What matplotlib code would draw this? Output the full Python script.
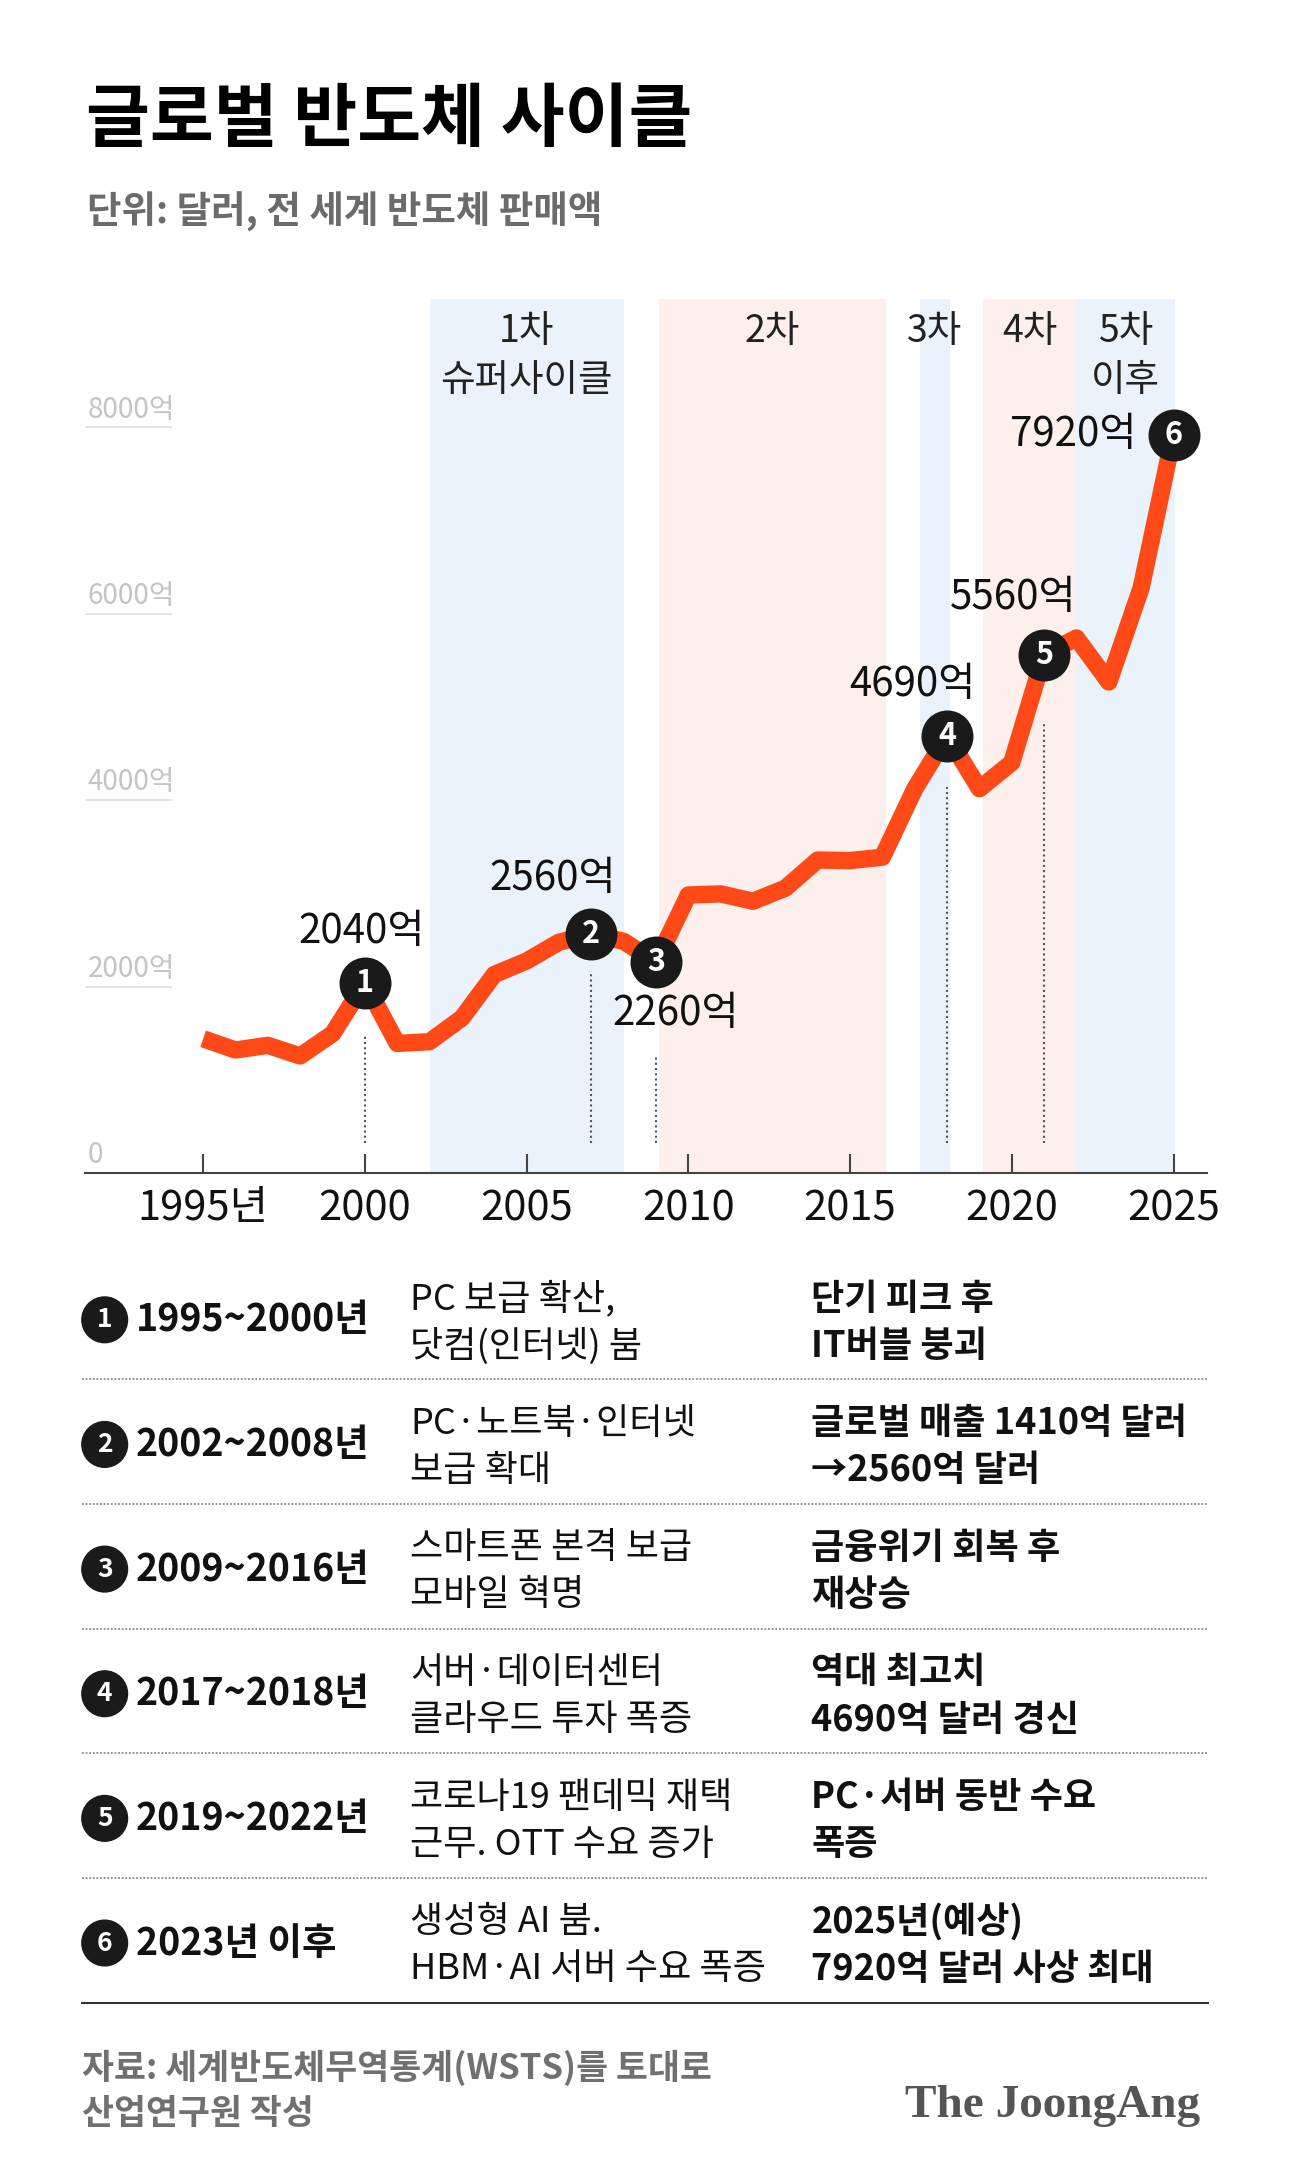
import matplotlib
matplotlib.use('Agg')
import matplotlib.pyplot as plt
from matplotlib.patches import Circle

plt.rcParams['font.family'] = ['Noto Sans CJK KR', 'DejaVu Sans']

# 데이터 (단위: 억 달러)
years = list(range(1995, 2026))
sales = [1440, 1320, 1370, 1256, 1494, 2040, 1390, 1409, 1663, 2130,
         2275, 2477, 2560, 2486, 2260, 2983, 2995, 2916, 3056, 3358,
         3352, 3389, 4122, 4690, 4123, 4404, 5560, 5741, 5268, 6280, 7920]

key_years = [2000, 2007, 2009, 2018, 2021, 2025]
key_values = [2040, 2560, 2260, 4690, 5560, 7920]
key_labels = ['2040억', '2560억', '2260억', '4690억', '5560억', '7920억']

cycle_names = ['1차\n슈퍼사이클', '2차', '3차', '4차', '5차\n이후']
cycle_start = [2002.0, 2009.1, 2017.15, 2019.1, 2022.0]
cycle_end = [2008.0, 2016.1, 2018.1, 2022.0, 2025.05]
cycle_colors = ['#EAF2FB', '#FCEFEC', '#EAF2FB', '#FCEFEC', '#EAF2FB']

xtick_years = [1995, 2000, 2005, 2010, 2015, 2020, 2025]
xtick_labels = ['1995년', '2000', '2005', '2010', '2015', '2020', '2025']
ytick_values = [2000, 4000, 6000, 8000]

periods = ['1995~2000년', '2002~2008년', '2009~2016년', '2017~2018년',
           '2019~2022년', '2023년 이후']
drivers = ['PC 보급 확산,\n닷컴(인터넷) 붐', 'PC·노트북·인터넷\n보급 확대',
           '스마트폰 본격 보급\n모바일 혁명', '서버·데이터센터\n클라우드 투자 폭증',
           '코로나19 팬데믹 재택\n근무. OTT 수요 증가', '생성형 AI 붐.\nHBM·AI 서버 수요 폭증']
results = ['단기 피크 후\nIT버블 붕괴', '글로벌 매출 1410억 달러\n→2560억 달러',
           '금융위기 회복 후\n재상승', '역대 최고치\n4690억 달러 경신',
           'PC·서버 동반 수요\n폭증', '2025년(예상)\n7920억 달러 사상 최대']

# 라벨 위치 (offset points)
label_offsets = [(-2, 37), (-28, 40), (14, -37), (-25, 37), (-22, 41), (-27, 0)]
label_ha = ['center', 'center', 'center', 'center', 'center', 'right']
drop_top = [1480, 2165, 1255, 4147, 4842]

W, H = 933, 1577  # 레이아웃 기준 좌표
fig = plt.figure(figsize=(12.92, 21.84), dpi=100)

ax = fig.add_axes([61.2 / W, 1 - 847 / H, (871.5 - 61.2) / W, (847 - 215.6) / H])
ax.set_xlim(1991.34, 2026.03)
ax.set_ylim(0, 9382)

for s, e, c in zip(cycle_start, cycle_end, cycle_colors):
    ax.axvspan(s, e, color=c, lw=0, zorder=0)
for name, s, e in zip(cycle_names, cycle_start, cycle_end):
    for j, line in enumerate(name.split('\n')):
        ax.annotate(line, xy=((s + e) / 2, 1), xycoords=('data', 'axes fraction'),
                    xytext=(0, -24 - 35 * j), textcoords='offset points',
                    ha='center', va='center', fontsize=27, color='#222222')

for v in ytick_values:
    ax.axhline(v, xmin=0, xmax=0.077, color='#DDDDDD', lw=1.2, zorder=1)
    ax.annotate(f'{v}억', xy=(0, v), xycoords=('axes fraction', 'data'),
                xytext=(2, 7), textcoords='offset points', ha='left', va='baseline',
                fontsize=20, color='#C4C4C4')
ax.annotate('0', xy=(0, 0), xycoords=('axes fraction', 'data'),
            xytext=(2, 7), textcoords='offset points', ha='left', va='baseline',
            fontsize=20, color='#C4C4C4')

for yr, top in zip(key_years[:5], drop_top):
    ax.plot([yr, yr], [320, top], color='#555555', lw=1.5, ls=(0, (1, 1.5)), zorder=2)

ax.plot(years, sales, color='#FF4A17', lw=12.5, solid_joinstyle='round',
        solid_capstyle='butt', zorder=3)
ax.scatter(key_years, key_values, s=1400, color='#1A1A1A', zorder=5, lw=0)
for i, (yr, v) in enumerate(zip(key_years, key_values)):
    ax.text(yr, v, str(i + 1), color='white', fontsize=22, fontweight='bold',
            ha='center', va='center', zorder=6)
    ax.annotate(key_labels[i], xy=(yr, v), xytext=label_offsets[i],
                textcoords='offset points', ha=label_ha[i], va='center',
                fontsize=29, color='#111111', zorder=6)

ax.set_xticks(xtick_years)
ax.set_xticklabels(xtick_labels)
ax.set_yticks([])
ax.tick_params(axis='x', direction='in', length=14, width=1.5, color='#444444',
               labelsize=30, pad=11, labelcolor='#111111')
for sp in ['top', 'left', 'right']:
    ax.spines[sp].set_visible(False)
ax.spines['bottom'].set_color('#444444')
ax.spines['bottom'].set_linewidth(1.5)

# 제목/부제
ov = fig.add_axes([0, 0, 1, 1])
ov.set_xlim(0, W)
ov.set_ylim(H, 0)
ov.axis('off')
ov.text(62, 87, '글로벌 반도체 사이클', fontsize=50, fontweight='heavy',
        ha='left', va='center', color='#000000')
ov.text(63, 153, '단위: 달러, 전 세계 반도체 판매액', fontsize=27,
        ha='left', va='center', color='#6B6B6B', fontweight='bold')

# 표
row_y0, row_step = 955, 90
for i in range(len(periods)):
    yc = row_y0 + i * row_step
    ov.add_patch(Circle((75.6, yc - 2), 16.5, color='#1A1A1A', zorder=3))
    ov.text(75.6, yc - 2, str(i + 1), color='white', fontsize=19, fontweight='bold',
            ha='center', va='center', zorder=4)
    ov.text(98, yc - 2, periods[i], fontsize=27, fontweight='bold',
            ha='left', va='center', color='#111111')
    for j, line in enumerate(drivers[i].split('\n')):
        ov.text(296, yc - 17 + 34 * j, line, fontsize=26, ha='left',
                va='center', color='#111111')
    for j, line in enumerate(results[i].split('\n')):
        ov.text(586, yc - 17 + 34 * j, line, fontsize=26, fontweight='bold',
                ha='left', va='center', color='#111111')
    sep_y = yc + 41
    if i < len(periods) - 1:
        ov.plot([59, 872], [sep_y, sep_y], color='#888888', lw=1.3, ls=(0, (1, 1)))
    else:
        ov.plot([59, 872], [sep_y, sep_y], color='#333333', lw=1.5)

# 출처
ov.text(59, 1493, '자료: 세계반도체무역통계(WSTS)를 토대로', fontsize=25,
        ha='left', va='center', color='#707070', fontweight='bold')
ov.text(59, 1526, '산업연구원 작성', fontsize=25,
        ha='left', va='center', color='#707070', fontweight='bold')
ov.text(867, 1521, 'The JoongAng', fontsize=34, fontweight='bold',
        family='Liberation Serif', ha='right', va='center', color='#555555')

fig.savefig('out.png', dpi=100, facecolor='white')
